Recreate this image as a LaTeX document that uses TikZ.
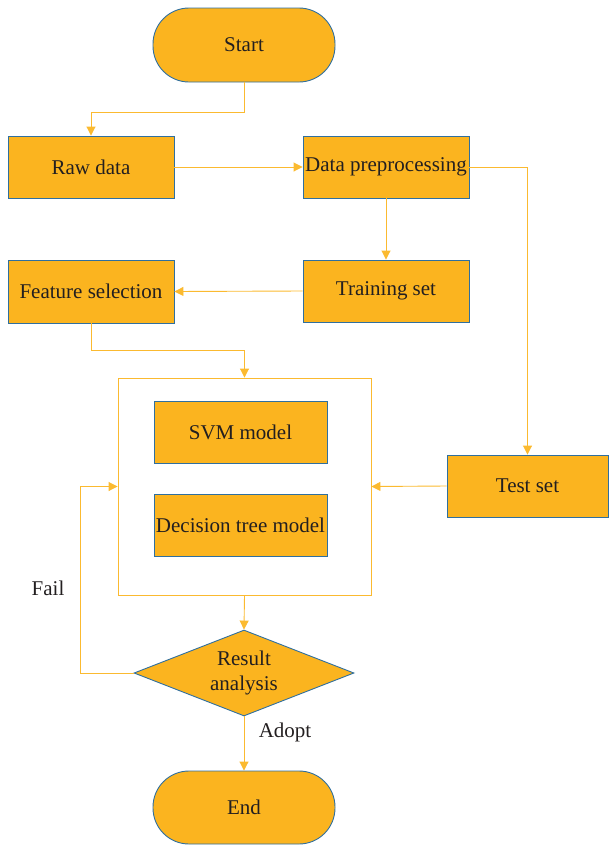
\documentclass[tikz,border=0pt]{standalone}
\usepackage{fontspec}
\setmainfont{Liberation Serif}
\usetikzlibrary{arrows.meta,shapes.geometric}
\definecolor{boxfill}{HTML}{FBB41F}
\definecolor{boxline}{HTML}{2F6F9F}
\definecolor{conn}{HTML}{FBBA30}
\definecolor{txt}{HTML}{231F20}
\tikzset{
  stepbox/.style={draw=boxline, line width=0.9pt, fill=boxfill, inner sep=0pt, text=txt, font=\fontsize{21}{24}\selectfont},
  term/.style={stepbox, rounded corners=36pt},
  arr/.style={draw=conn, line width=0.9pt, -{Triangle[length=9pt,width=9pt]}},
  lbl/.style={text=txt, font=\fontsize{21}{24}\selectfont}
}
\begin{document}
\begin{tikzpicture}[x=1pt,y=-1pt]
\useasboundingbox (0,0) rectangle (608,846);
\node[term, minimum width=182pt, minimum height=74pt] (start) at (244,45) {Start};
\node[stepbox, minimum width=166pt, minimum height=62pt] (raw) at (91,167) {Raw data};
\node[stepbox, minimum width=166pt, minimum height=62pt] (dp) at (386,167) {Data preprocessing};
\node[stepbox, minimum width=166pt, minimum height=62pt] (train) at (386,291) {Training set};
\node[stepbox, minimum width=166pt, minimum height=63pt] (feat) at (91,291.5) {Feature selection};
\node[draw=conn, line width=0.9pt, minimum width=253pt, minimum height=217pt, inner sep=0pt] (cont) at (244.5,486.5) {};
\node[stepbox, minimum width=173pt, minimum height=62pt] (svm) at (240.5,432) {SVM model};
\node[stepbox, minimum width=173pt, minimum height=62pt] (dec) at (240.5,525) {Decision tree model};
\node[stepbox, minimum width=161pt, minimum height=62pt] (test) at (527.5,486) {Test set};
\node[stepbox, diamond, minimum width=220pt, minimum height=86pt] (res) at (244,673) {};
\node[lbl, align=center, font=\fontsize{21}{25}\selectfont] (restxt) at (res.center) {Result\\analysis};
\node[term, minimum width=182pt, minimum height=73pt] (end) at (244,807.5) {End};
\node[lbl] (fail) at (48,588) {Fail};
\node[lbl] (adopt) at (285,732) {Adopt};
\coordinate (failc) at (80,673);

\draw[arr] (start.south) -- ([yshift=-30pt]start.south) -| (raw.north);
\draw[arr] (raw.east) -- (dp.west);
\draw[arr] (dp.east) -| (test.north);
\draw[arr] (dp.south) -- (train.north);
\draw[arr] (train.west) -- (feat.east);
\draw[arr] (feat.south) -- ([yshift=-27pt]feat.south) -| (cont.north);
\draw[arr] (test.west) -- (cont.east);
\draw[arr] (cont.south) -- (res.north);
\draw[arr] (res.west) -- (failc) |- (cont.west);
\draw[arr] (res.south) -- (end.north);
\end{tikzpicture}
\end{document}
